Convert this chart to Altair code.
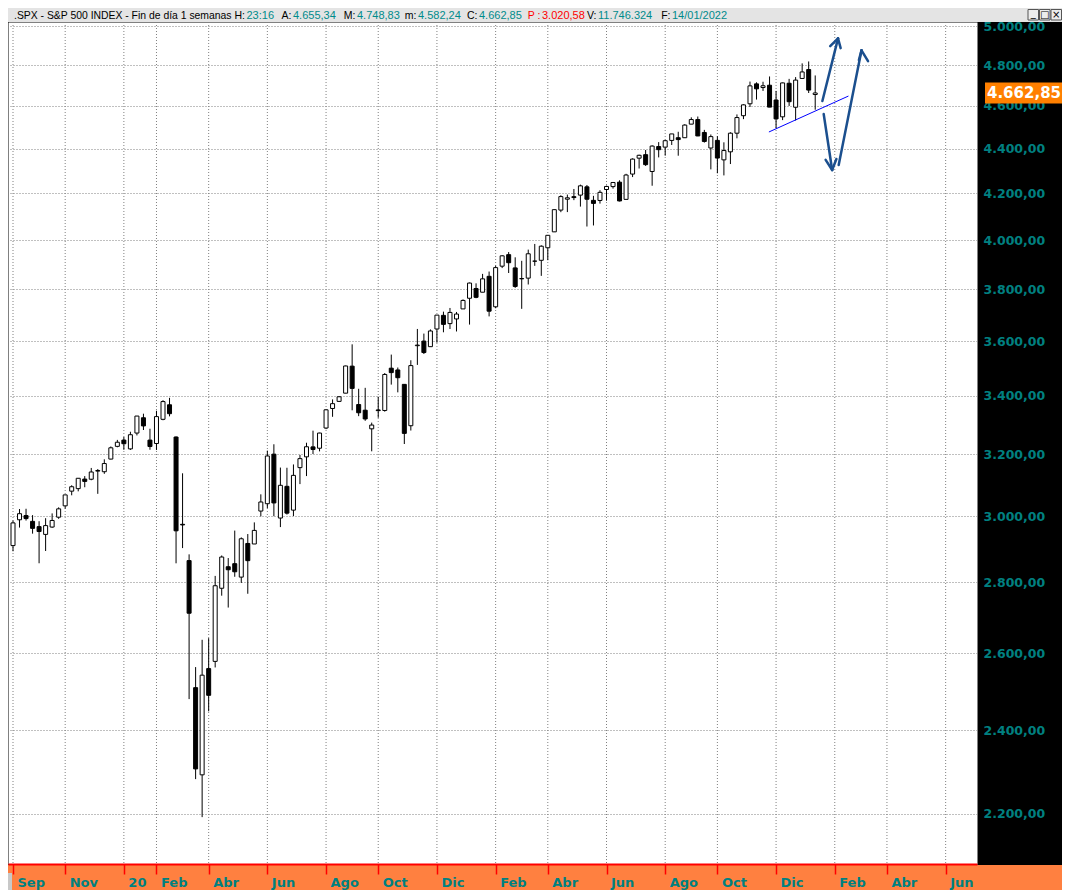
import altair as alt
import pandas as pd

# ---------------- data (weekly candles, week ending Friday) ----------------
opens = [2909.0, 2988.4, 3001.5, 2983.5, 2967.1, 2943.2, 2965.8, 2996.5, 3032.1, 3078.9,
         3087.0, 3117.9, 3117.4, 3143.9, 3141.9, 3183.6, 3226.1,
         3247.2, 3217.6, 3271.1, 3323.7, 3247.2, 3235.7, 3318.3, 3369.0, 3257.6, 2974.3,
         2863.9, 2508.6, 2290.7, 2559.0, 2578.3, 2782.5, 2845.6, 2854.7, 2815.0, 2915.5,
         2913.9, 3015.7, 3038.8, 3199.9, 2993.8, 3094.4, 3018.6, 3155.3, 3191.0, 3224.3,
         3219.8, 3288.3, 3356.0, 3380.9, 3410.0, 3507.4, 3369.8, 3350.0, 3285.6, 3350.9,
         3349.0, 3500.0, 3493.5, 3441.4, 3296.2, 3583.0, 3600.2, 3579.3, 3645.9, 3698.1,
         3666.4, 3684.3, 3723.0,
         3764.6, 3803.1, 3788.4, 3851.7, 3731.2, 3892.6, 3939.6, 3885.6, 3842.5, 3844.4,
         3913.1, 3916.5, 3968.0, 4034.4, 4127.0, 4174.1, 4185.1, 4191.9, 4228.3, 4169.1,
         4168.6, 4216.5, 4229.3, 4248.9, 4173.4, 4284.9, 4356.5, 4372.4, 4296.4, 4409.6,
         4406.9, 4437.8, 4450.3, 4450.3, 4513.8, 4535.4, 4474.8, 4402.9, 4438.0, 4348.8,
         4385.4, 4471.4, 4553.7, 4610.6, 4707.3, 4689.3, 4700.7, 4628.8, 4548.4, 4710.3,
         4594.0, 4733.9, 4778.1, 4655.34]
highs = [2985.9, 3022.0, 3022.9, 3002.9, 2983.9, 2993.3, 3008.3, 3027.4, 3066.9, 3097.8,
         3120.5, 3127.6, 3154.3, 3150.6, 3182.7, 3225.7, 3247.9,
         3258.1, 3275.6, 3329.9, 3337.8, 3285.9, 3348.0, 3385.1, 3393.5, 3259.8, 3136.7,
         2882.6, 2563.0, 2637.0, 2641.4, 2818.6, 2879.2, 2871.5, 2954.9, 2934.0, 2944.3,
         2980.3, 3068.7, 3211.7, 3233.1, 3155.5, 3154.9, 3165.8, 3197.5, 3238.3, 3279.3,
         3272.2, 3352.5, 3387.9, 3399.9, 3509.2, 3588.1, 3425.6, 3429.0, 3306.9, 3397.2,
         3482.3, 3549.9, 3502.4, 3441.4, 3529.0, 3646.0, 3628.5, 3644.3, 3699.2, 3712.4,
         3726.7, 3711.2, 3760.2,
         3826.7, 3823.6, 3861.5, 3870.9, 3894.6, 3937.2, 3950.4, 3928.7, 3914.5, 3960.3,
         3983.9, 3978.2, 4020.6, 4129.5, 4191.3, 4194.2, 4218.8, 4238.0, 4236.4, 4188.7,
         4213.4, 4233.5, 4249.7, 4257.2, 4286.1, 4355.8, 4372.2, 4393.7, 4415.2, 4430.0,
         4440.8, 4468.0, 4478.0, 4513.3, 4545.9, 4549.8, 4486.9, 4465.4, 4457.6, 4429.1,
         4475.8, 4559.7, 4608.1, 4718.5, 4714.9, 4717.8, 4743.8, 4672.9, 4713.6, 4731.9,
         4740.7, 4808.9, 4818.6, 4748.83]
lows = [2891.9, 2964.2, 2985.9, 2945.5, 2855.9, 2892.7, 2963.4, 2991.4, 3023.2, 3065.6,
        3078.3, 3091.4, 3114.1, 3070.3, 3135.0, 3182.6, 3223.0,
        3214.6, 3214.0, 3263.0, 3281.5, 3214.7, 3214.0, 3315.0, 3328.5, 2855.8, 2901.5,
        2478.9, 2280.5, 2191.9, 2447.5, 2562.0, 2761.0, 2727.1, 2816.0, 2797.9, 2766.6,
        2913.9, 2999.0, 3025.0, 2999.5, 2965.7, 3004.6, 3000.1, 3101.6, 3127.7, 3200.3,
        3209.2, 3284.5, 3327.0, 3379.3, 3410.0, 3349.6, 3329.3, 3313.1, 3209.5, 3323.7,
        3344.9, 3440.5, 3412.9, 3234.0, 3279.7, 3511.9, 3552.0, 3579.3, 3594.5, 3633.4,
        3645.8, 3636.5, 3723.0,
        3662.7, 3764.7, 3788.4, 3694.1, 3725.6, 3884.9, 3865.0, 3805.6, 3723.3, 3819.0,
        3894.0, 3853.5, 3917.1, 4034.4, 4118.0, 4118.4, 4170.0, 4142.0, 4056.9, 4061.4,
        4155.0, 4167.6, 4220.3, 4164.4, 4173.4, 4271.4, 4309.7, 4321.3, 4233.1, 4360.0,
        4368.0, 4416.8, 4367.7, 4450.3, 4513.8, 4457.7, 4427.8, 4305.9, 4288.5, 4278.9,
        4329.9, 4447.5, 4537.4, 4595.1, 4630.9, 4672.8, 4594.6, 4495.1, 4532.8, 4600.2,
        4531.1, 4733.9, 4662.7, 4582.24]
closes = [2978.7, 3007.4, 2992.1, 2961.8, 2952.0, 2970.3, 2986.2, 3022.6, 3066.9, 3093.1,
          3120.5, 3110.3, 3141.0, 3145.9, 3168.8, 3221.2, 3240.0,
          3234.9, 3265.4, 3329.6, 3295.5, 3225.5, 3327.7, 3380.2, 3337.8, 2954.2, 2972.4,
          2711.0, 2304.9, 2541.5, 2488.7, 2789.8, 2874.6, 2836.7, 2830.7, 2929.8, 2863.7,
          2955.5, 3044.3, 3193.9, 3041.3, 3097.7, 3009.1, 3130.0, 3185.0, 3224.7, 3215.6,
          3271.1, 3351.3, 3372.9, 3397.2, 3508.0, 3427.0, 3341.0, 3319.5, 3298.5, 3348.4,
          3477.1, 3483.8, 3465.4, 3270.0, 3509.4, 3585.2, 3557.5, 3638.4, 3699.1, 3663.5,
          3709.4, 3703.1, 3756.1,
          3824.7, 3768.3, 3841.5, 3714.2, 3886.8, 3934.8, 3906.7, 3811.2, 3841.9, 3943.3,
          3913.1, 3974.5, 4019.9, 4128.8, 4185.5, 4180.2, 4181.2, 4232.6, 4173.9, 4155.9,
          4204.1, 4229.9, 4247.4, 4166.5, 4280.7, 4352.3, 4369.6, 4327.2, 4411.8, 4395.3,
          4436.5, 4468.0, 4441.7, 4509.4, 4535.4, 4458.6, 4433.0, 4455.5, 4357.0, 4391.3,
          4471.4, 4544.9, 4605.4, 4697.5, 4682.9, 4698.0, 4594.6, 4538.4, 4712.0, 4620.6,
          4725.8, 4766.2, 4677.0, 4662.85]

# x-axis: candle index of first week of each labelled month
month_idx = [0, 8, 17, 22, 30, 39, 48, 56, 65, 74, 82, 91, 100, 108, 117, 126, 134, 143]
month_lbl = ["Sep", "Nov", "20", "Feb", "Abr", "Jun", "Ago", "Oct", "Dic",
             "Feb", "Abr", "Jun", "Ago", "Oct", "Dic", "Feb", "Abr", "Jun"]
price_ticks = [2200, 2400, 2600, 2800, 3000, 3200, 3400, 3600, 3800, 4000,
               4200, 4400, 4600, 4800, 5000]

# hand-drawn annotations (candle index, price)
trend_x1, trend_p1, trend_x2, trend_p2 = [115.9], [4477], [128.1], [4648]
arrow_x1 = [124.1, 126.5, 126.5, 124.3, 125.6, 125.6, 126.6, 130.1, 130.1]
arrow_p1 = [4624, 4936, 4936, 4562, 4303, 4303, 4326, 4875, 4875]
arrow_x2 = [126.5, 125.3, 126.9, 125.6, 124.6, 126.25, 130.1, 129.7, 131.1]
arrow_p2 = [4936, 4896, 4886, 4303, 4349, 4353, 4875, 4825, 4820]

header_info = {"H": "23:16", "P": "3.020,58", "V": "11.746.324", "F": "14/01/2022"}


def es(v):
    return f"{v:,.2f}".replace(",", "#").replace(".", ",").replace("#", ".")


# ---------------- layout ----------------
W, H = 969, 842
PX_WEEK = 6.59
X_DOM = [0, W / PX_WEEK]
Y_DOM = [2087.4, 5020.9]
TEAL = "#008080"
FONT_B = "DejaVu Sans"

df = pd.DataFrame({"i": list(range(len(opens))), "open": opens, "high": highs,
                   "low": lows, "close": closes})

xs = alt.Scale(domain=X_DOM, nice=False, zero=False)
ys = alt.Scale(type="log", domain=Y_DOM, nice=False)

y_axis = alt.Axis(orient="right", values=price_ticks, title=None,
                  labelExpr="replace(replace(replace(format(datum.value, ',.2f'), ',', '#'), '.', ','), '#', '.')",
                  grid=True, gridDash=[1, 2], gridColor="#808080", gridWidth=1,
                  ticks=False, domain=False, labelFont=FONT_B, labelFontWeight="bold",
                  labelFontSize=12.5, labelColor=TEAL, labelPadding=6,
                  labelAlign="left", labelBaseline="middle", labelOverlap=False,
                  labelBound=False, labelFlush=False, zindex=0)

idx_list = "[" + ",".join(str(v) for v in month_idx) + "]"
lbl_list = "[" + ",".join("'" + s + "'" for s in month_lbl) + "]"
x_axis = alt.Axis(orient="bottom", values=month_idx, title=None, grid=False,
                  labelExpr=f"{lbl_list}[indexof({idx_list}, datum.value)]",
                  domainColor="#ff0000", domainWidth=2, tickColor="#ff0000",
                  tickSize=10, tickWidth=1.5, labelFont=FONT_B, labelFontWeight="bold",
                  labelFontSize=13, labelColor=TEAL, labelAlign="left",
                  labelBaseline="middle", labelPadding=8, labelOffset=4,
                  labelOverlap=False, labelBound=False, labelFlush=False, zindex=1)


def X(f):
    return alt.X(f, scale=xs, axis=x_axis)


def Y(f):
    return alt.Y(f, scale=ys, axis=y_axis)


base = alt.Chart(df)

vgrid = alt.Chart(pd.DataFrame({"i": month_idx})).mark_rule(
    color="#808080", strokeDash=[1, 2], strokeWidth=1
).encode(x=X("i:Q"))

wicks = base.mark_rule(color="black", strokeWidth=1).encode(
    x=X("i:Q"), y=Y("low:Q"), y2="high:Q")

bodies = base.mark_bar(width=4, stroke="black", strokeWidth=1).encode(
    x=X("i:Q"), y=Y("open:Q"), y2="close:Q",
    fill=alt.condition("datum.close >= datum.open", alt.value("white"), alt.value("black")),
)

trend = alt.Chart(pd.DataFrame({"x1": trend_x1, "p1": trend_p1, "x2": trend_x2, "p2": trend_p2})
                  ).mark_rule(color="#0000ff", strokeWidth=1).encode(
    x=X("x1:Q"), x2="x2:Q", y=Y("p1:Q"), y2="p2:Q")

arrows = alt.Chart(pd.DataFrame({"x1": arrow_x1, "p1": arrow_p1, "x2": arrow_x2, "p2": arrow_p2})
                   ).mark_rule(color="#1b4f8e", strokeWidth=2.5, strokeCap="round").encode(
    x=X("x1:Q"), x2="x2:Q", y=Y("p1:Q"), y2="p2:Q")

one = alt.Chart(pd.DataFrame({"a": [0]}))

# top title bar (plot coords: page x - 8, page y - 22)
top_bar = one.mark_rect(color="#e4e4e4").encode(
    x=alt.value(-8), x2=alt.value(1054), y=alt.value(-14), y2=alt.value(0))

last_o, last_h, last_l, last_c = opens[-1], highs[-1], lows[-1], closes[-1]
BLACK, VAL, RED = "#000000", "#008b8b", "#ff0000"
TY = -6.5
# (label, value, value x, value colour, label colour)
pairs = [
    ("H:", header_info["H"], 238.5, VAL, BLACK),
    ("A:", es(last_o), 285, VAL, BLACK),
    ("M:", es(last_h), 349, VAL, BLACK),
    ("m:", es(last_l), 410, VAL, BLACK),
    ("C:", es(last_c), 471, VAL, BLACK),
    ("P :", header_info["P"], 534, RED, RED),
    ("V:", header_info["V"], 590, VAL, BLACK),
    ("F:", header_info["F"], 664, VAL, BLACK),
]
title_layers = [
    one.mark_text(font="Liberation Sans", fontSize=10.4, align="left", baseline="middle",
                  color=BLACK).encode(x=alt.value(6), y=alt.value(TY),
                                      text=alt.value(".SPX - S&P 500 INDEX - Fin de día 1 semanas"))
]
for lab, val, vx, vc, lc in pairs:
    title_layers.append(one.mark_text(font="Liberation Sans", fontSize=10.5, align="right",
                                      baseline="middle", color=lc).encode(
        x=alt.value(vx - 1.5), y=alt.value(TY), text=alt.value(lab)))
    title_layers.append(one.mark_text(font="Liberation Sans", fontSize=11, align="left",
                                      baseline="middle", color=vc).encode(
        x=alt.value(vx), y=alt.value(TY), text=alt.value(val)))

btn_layers = []
for k, g in enumerate(["_", "□", "×"]):
    x0 = 1020 + k * 11.5
    btn_layers.append(one.mark_rect(fill="#ececec", stroke="#555555", strokeWidth=1).encode(
        x=alt.value(x0), x2=alt.value(x0 + 10.5), y=alt.value(-12.5), y2=alt.value(-2)))
    btn_layers.append(one.mark_text(font="DejaVu Sans", fontSize=10, color="black",
                                    align="center", baseline="middle").encode(
        x=alt.value(x0 + 5.25), y=alt.value(-7.5 if g != "_" else -9), text=alt.value(g)))

# bottom orange band
band = one.mark_rect(color="#ff8040").encode(
    x=alt.value(-8), x2=alt.value(1054), y=alt.value(843), y2=alt.value(872))
left_btn = one.mark_rect(color="#c8c8c8").encode(
    x=alt.value(-8), x2=alt.value(4), y=alt.value(851), y2=alt.value(868))

# last price box
lp = alt.Chart(pd.DataFrame({"p": [last_c]})).transform_calculate(
    top="datum.p * exp(10.5 / 959.3)", bot="datum.p * exp(-10.5 / 959.3)")
price_box = lp.mark_rect(color="#ff8000").encode(
    x=alt.value(977), x2=alt.value(1055), y=Y("top:Q"), y2="bot:Q")
price_txt = lp.mark_text(font=FONT_B, fontWeight="bold", fontSize=15, color="white",
                         align="center", baseline="middle").encode(
    x=alt.value(1016), y=Y("p:Q"), text=alt.value(es(last_c)))

chart = alt.layer(
    vgrid, wicks, bodies, trend, arrows, top_bar, *title_layers, *btn_layers,
    band, left_btn, price_box, price_txt
).properties(
    width=W, height=H,
    padding={"left": 0, "top": 14, "right": 85, "bottom": 26},
    autosize=alt.AutoSizeParams(type="none"),
    background="black",
).configure_view(fill="white", stroke="transparent")

chart.save("out.html", embed_options={"renderer": "svg", "actions": False})
